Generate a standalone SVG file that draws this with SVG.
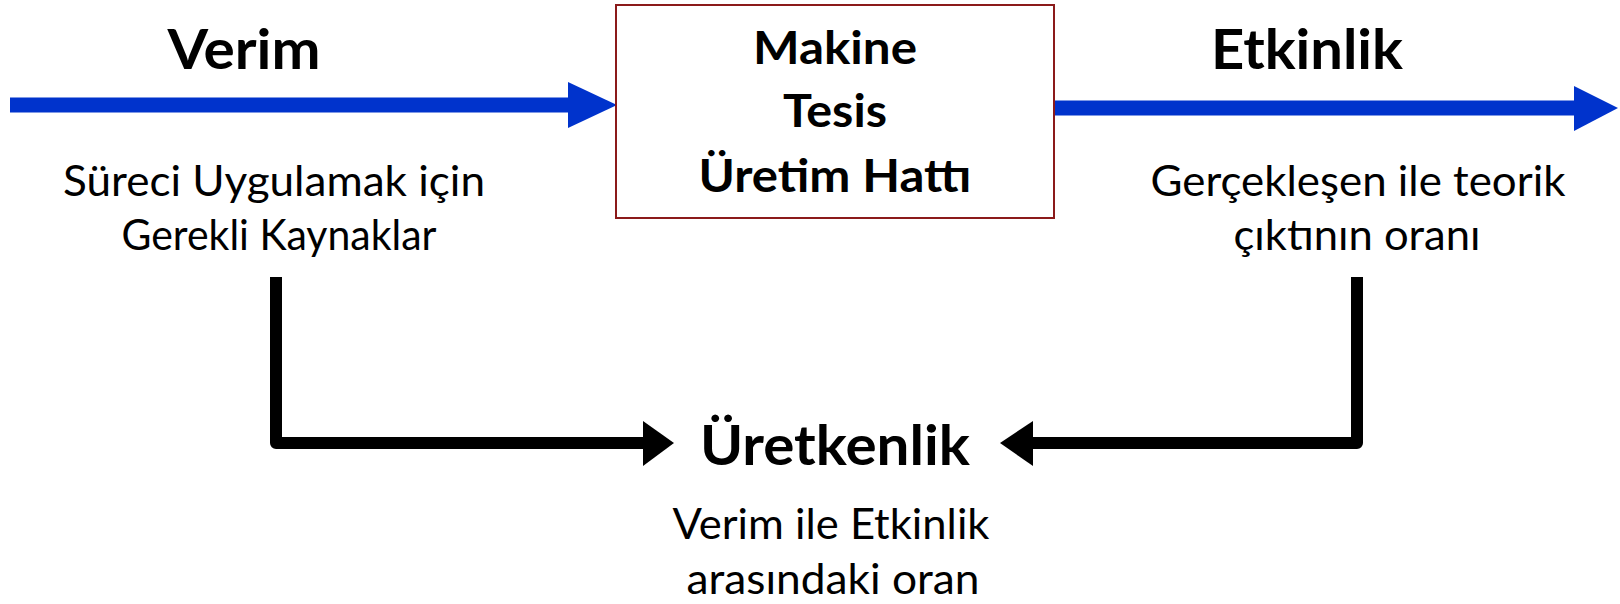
<svg xmlns="http://www.w3.org/2000/svg" width="1620" height="604" viewBox="0 0 1620 604">
  <style>
    .title { font-family: Lato, "Open Sans", sans-serif; font-weight: 700; font-size: 55px; fill: #000; text-anchor: middle; }
    .boxtext { font-family: Lato, "Open Sans", sans-serif; font-weight: 700; font-size: 46px; fill: #000; text-anchor: middle; }
    .note { font-family: Lato, "Open Sans", sans-serif; font-weight: 400; font-size: 43px; fill: #000; text-anchor: middle; }
    .flow { fill: none; stroke: #0033CC; stroke-width: 15; }
    .link { fill: none; stroke: #000; stroke-width: 12; stroke-linejoin: round; }
  </style>
  <rect width="1620" height="604" fill="#fff"/>

  <g id="connectors">
    <!-- input flow into the machine -->
    <line class="flow" x1="10" y1="105" x2="570" y2="105"/>
    <polygon points="568,82 617,105 568,128" fill="#0033CC"/>
    <!-- output flow from the machine -->
    <line class="flow" x1="1054" y1="108" x2="1576" y2="108"/>
    <polygon points="1574,86 1618,108 1574,131" fill="#0033CC"/>
    <!-- efficiency feeds productivity -->
    <path class="link" d="M276,277 V443 H645"/>
    <polygon points="643,421 674,443 643,466" fill="#000"/>
    <!-- effectiveness feeds productivity -->
    <path class="link" d="M1357,277 V443 H1031"/>
    <polygon points="1033,421 1000,443 1033,466" fill="#000"/>
  </g>

  <g id="verim">
    <text class="title" x="244" y="69" textLength="153" lengthAdjust="spacingAndGlyphs">Verim</text>
    <text class="note" x="274" y="196" textLength="422" lengthAdjust="spacingAndGlyphs">Süreci Uygulamak için</text>
    <text class="note" x="279" y="250" textLength="315" lengthAdjust="spacingAndGlyphs">Gerekli Kaynaklar</text>
  </g>

  <g id="makine">
    <rect x="616" y="5" width="438" height="213" fill="#fff" stroke="#8B1A1A" stroke-width="2"/>
    <text class="boxtext" x="835" y="64" textLength="164" lengthAdjust="spacingAndGlyphs">Makine</text>
    <text class="boxtext" x="835" y="127" textLength="104" lengthAdjust="spacingAndGlyphs">Tesis</text>
    <text class="boxtext" x="835" y="192" textLength="273" lengthAdjust="spacingAndGlyphs">Üretim Hattı</text>
  </g>

  <g id="etkinlik">
    <text class="title" x="1307" y="69" textLength="192" lengthAdjust="spacingAndGlyphs">Etkinlik</text>
    <text class="note" x="1358" y="196" textLength="415" lengthAdjust="spacingAndGlyphs">Gerçekleşen ile teorik</text>
    <text class="note" x="1357" y="250" textLength="247" lengthAdjust="spacingAndGlyphs">çıktının oranı</text>
  </g>

  <g id="uretkenlik">
    <text class="title" x="835" y="465" textLength="270" lengthAdjust="spacingAndGlyphs">Üretkenlik</text>
    <text class="note" x="831" y="539" textLength="317" lengthAdjust="spacingAndGlyphs">Verim ile Etkinlik</text>
    <text class="note" x="833" y="594" textLength="293" lengthAdjust="spacingAndGlyphs">arasındaki oran</text>
  </g>
</svg>
